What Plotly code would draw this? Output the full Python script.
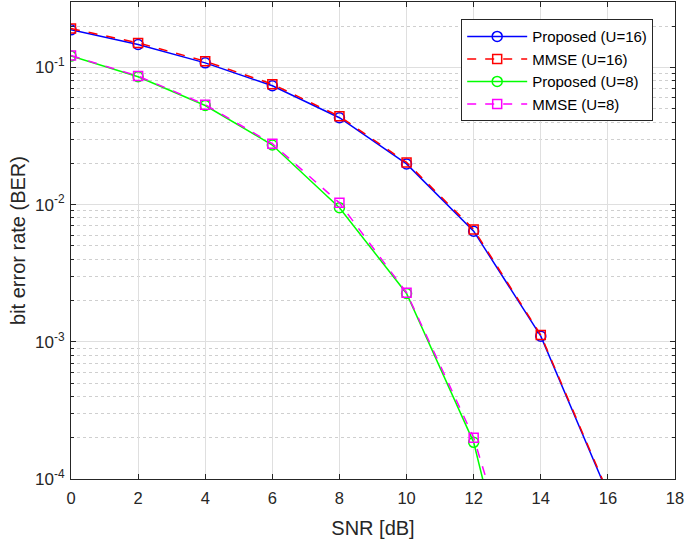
import plotly.graph_objects as go

snr16 = [0, 2, 4, 6, 8, 10, 12, 14, 16]
prop16 = [0.188, 0.147, 0.108, 0.0735, 0.0430, 0.0198, 0.0064, 0.00110, 7.8e-5]
mmse16 = [0.192, 0.151, 0.111, 0.0755, 0.0440, 0.0203, 0.0066, 0.00112, 8.0e-5]
snr8 = [0, 2, 4, 6, 8, 10, 12, 14]
prop8 = [0.121, 0.0855, 0.0528, 0.0272, 0.0095, 0.00225, 0.000185, 1.9e-6]
mmse8 = [0.122, 0.0865, 0.0535, 0.0278, 0.0103, 0.00228, 0.000200, 5e-6]

names = ["Proposed (U=16)", "MMSE (U=16)", "Proposed (U=8)", "MMSE (U=8)"]
xtick_vals = list(range(0, 19, 2))
ytick_vals = [1e-4, 1e-3, 1e-2, 1e-1]
ytick_text = ["10<sup>-4</sup>", "10<sup>-3</sup>", "10<sup>-2</sup>", "10<sup>-1</sup>"]
yminor_vals = [m * 10.0 ** e for e in range(-4, 0) for m in range(2, 10)]

axis_col = "#262626"
grid_col = "#dfdfdf"
font = "Liberation Sans, Arial, sans-serif"

fig = go.Figure()
specs = [
    (snr16, prop16, names[0], "#0000ff", "solid", "circle-open", 10),
    (snr16, mmse16, names[1], "#ff0000", "dash", "square-open", 9),
    (snr8, prop8, names[2], "#00ff00", "solid", "circle-open", 10),
    (snr8, mmse8, names[3], "#ff00ff", "dash", "square-open", 9),
]
for x, y, n, c, d, s, ms in specs:
    fig.add_trace(go.Scatter(
        x=x, y=y, name=n, mode="lines+markers",
        line=dict(color=c, width=1.5, dash=d),
        marker=dict(symbol=s, size=ms, color=c, line=dict(color=c, width=1.5)),
    ))

fig.update_layout(
    width=685, height=541,
    margin=dict(l=71, r=10, t=2, b=62),
    paper_bgcolor="white", plot_bgcolor="white",
    font=dict(family=font, size=16, color=axis_col),
    legend=dict(
        x=0.646, y=0.964, xanchor="left", yanchor="top",
        bgcolor="white", bordercolor=axis_col, borderwidth=1,
        font=dict(size=15, color="black"),
        tracegroupgap=0, itemwidth=60,
    ),
    showlegend=True,
)
fig.update_xaxes(
    range=[0, 18], tickvals=xtick_vals,
    showline=True, linecolor=axis_col, linewidth=1, mirror="ticks",
    ticks="inside", ticklen=5, tickcolor=axis_col,
    showgrid=True, gridcolor=grid_col, gridwidth=1, zeroline=False,
    title=dict(text="SNR [dB]", font=dict(size=20), standoff=15),
    tickfont=dict(size=16.5), ticklabeloverflow="allow", ticklabelstandoff=4,
)
fig.update_yaxes(
    type="log", range=[-4, -0.523],
    tickvals=ytick_vals, ticktext=ytick_text,
    showline=True, linecolor=axis_col, linewidth=1, mirror="ticks",
    ticks="inside", ticklen=5, tickcolor=axis_col,
    showgrid=True, gridcolor=grid_col, gridwidth=1, zeroline=False,
    minor=dict(tickvals=yminor_vals, ticks="inside", ticklen=3, tickcolor=axis_col,
               showgrid=True, gridcolor="#cfcfcf", griddash="dot", gridwidth=1),
    title=dict(text="bit error rate (BER)", font=dict(size=20), standoff=4),
    tickfont=dict(size=17), ticklabelstandoff=2,
)

fig.write_html(
    "out.html",
    config={"displayModeBar": False},
    post_script="document.body.style.margin='0';document.body.style.overflow='hidden';",
)
